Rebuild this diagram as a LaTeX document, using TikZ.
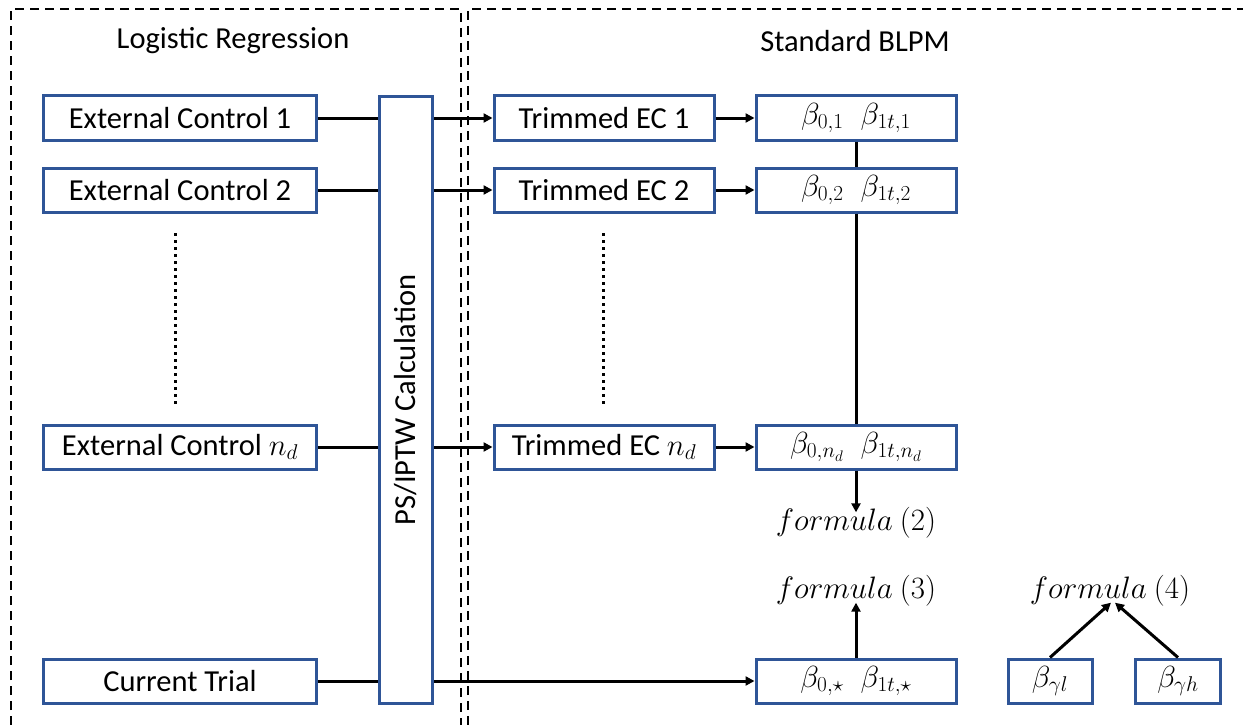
\RequirePackage{fix-cm}
\documentclass[tikz,border=0pt]{standalone}
\usepackage{fontspec}
\setmainfont{Carlito}
\usetikzlibrary{arrows.meta}
\definecolor{boxblue}{HTML}{2F5597}
\begin{document}
\begin{tikzpicture}[x=1pt,y=-1pt,
  box/.style={draw=boxblue, line width=3pt, fill=white, inner sep=0pt, font=\fontsize{30.5}{34}\selectfont},
  conn/.style={line width=3pt},
  arr/.style={conn, -{Triangle[length=9pt,width=9pt]}},
  frame/.style={line width=2.4pt, dash pattern=on 9pt off 6pt},
  dotline/.style={line width=3pt, dash pattern=on 3pt off 4pt},
  title/.style={font=\fontsize{30.5}{34}\selectfont},
  formula/.style={inner sep=1pt, font=\fontsize{31}{34}\selectfont}]
\useasboundingbox (0,0) rectangle (1243,725);
% frames
\draw[frame] (11,725) -- (11,9) -- (461,9) -- (461,725);
\draw[frame] (468,725) -- (468,9) -- (1243,9);
\node[title] (t1) at (233,41) {Logistic Regression};
\node[title] (t2) at (855,41) {Standard BLPM};
% left boxes
\node[box, minimum width=273pt, minimum height=44pt] (ec1) at (180,118) {External Control 1};
\node[box, minimum width=273pt, minimum height=44pt] (ec2) at (180,190) {External Control 2};
\node[box, minimum width=273pt, minimum height=44pt] (ecn) at (180,447) {External Control $n_d$};
\node[box, minimum width=273pt, minimum height=44pt] (ct) at (180,681) {Current Trial};
\node[box, minimum width=53pt, minimum height=606pt] (ps) at (406,400) {\rotatebox{90}{PS/IPTW Calculation}};
% trimmed
\node[box, minimum width=220pt, minimum height=44pt] (tec1) at (604,118) {Trimmed EC 1};
\node[box, minimum width=220pt, minimum height=44pt] (tec2) at (604,190) {Trimmed EC 2};
\node[box, minimum width=220pt, minimum height=44pt] (tecn) at (604,447) {Trimmed EC $n_d$};
% beta
\node[box, minimum width=200pt, minimum height=44pt] (b1) at (856,118) {$\beta_{0,1}\;\;\beta_{1t,1}$};
\node[box, minimum width=200pt, minimum height=44pt] (b2) at (856,190) {$\beta_{0,2}\;\;\beta_{1t,2}$};
\node[box, minimum width=200pt, minimum height=44pt] (bn) at (856,447) {$\beta_{0,n_d}\;\;\beta_{1t,n_d}$};
\node[box, minimum width=200pt, minimum height=44pt] (bs) at (856,681) {$\beta_{0,\star}\;\;\beta_{1t,\star}$};
\node[box, minimum width=84pt, minimum height=44pt] (bgl) at (1050,681) {$\beta_{\gamma l}$};
\node[box, minimum width=85pt, minimum height=44pt] (bgh) at (1178,681) {$\beta_{\gamma h}$};
% formulas
\node[formula] (f2) at (856,523) {$formula\ (2)$};
\node[formula] (f3) at (856,591) {$formula\ (3)$};
\node[formula] (f4) at (1110,591) {$formula\ (4)$};
% dotted
\draw[dotline] (175,233) -- (175,405);
\draw[dotline] (603,233) -- (603,405);
% connectors
\foreach \e/\t in {ec1/tec1, ec2/tec2, ecn/tecn} {
  \draw[conn] (\e.east) -- (\e.east -| ps.west);
  \draw[arr] (\t.west -| ps.east) -- (\t.west);
}
\draw[arr] (tec1.east) -- (b1.west);
\draw[arr] (tec2.east) -- (b2.west);
\draw[arr] (tecn.east) -- (bn.west);
\draw[conn] (ct.east) -- (ct.east -| ps.west);
\draw[arr] (bs.west -| ps.east) -- (bs.west);
\draw[conn] (b1.south) -- (b2.north);
\draw[conn] (b2.south) -- (bn.north);
\draw[arr] (bn.south) -- ([yshift=-6pt]f2.north);
\draw[arr] (bs.north) -- ([yshift=5pt]f3.south);
\draw[arr] (bgl.north) -- ([xshift=1pt,yshift=5pt]f4.south);
\draw[arr] (bgh.north) -- ([xshift=5pt,yshift=5pt]f4.south);
\end{tikzpicture}
\end{document}
